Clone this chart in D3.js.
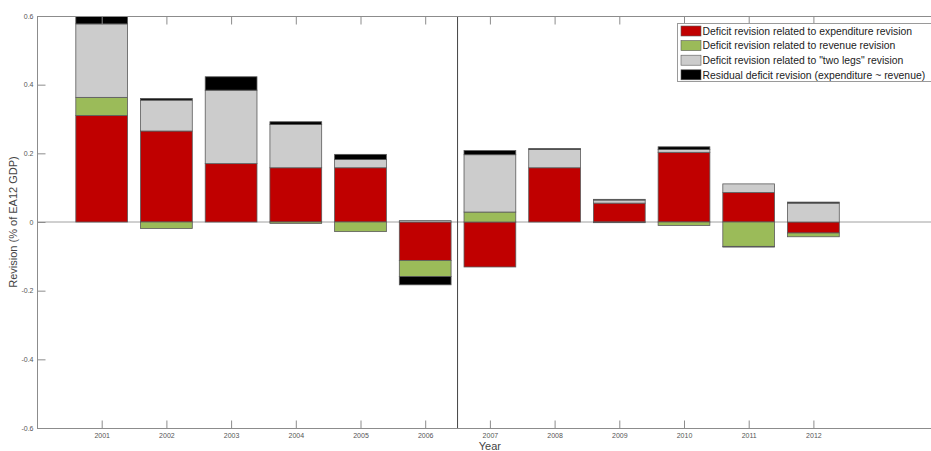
<!DOCTYPE html>
<html>
<head>
<meta charset="utf-8">
<script src="https://cdn.jsdelivr.net/npm/d3@7"></script>
<style>
  body { margin: 0; background: #fff; }
  svg { display: block; }
  text { font-family: "Liberation Sans", Arial, sans-serif; }
</style>
</head>
<body>
<svg id="chart" width="931" height="451"></svg>
<script>
const years = [2001, 2002, 2003, 2004, 2005, 2006, 2007, 2008, 2009, 2010, 2011, 2012];
const expenditure = [0.310, 0.265, 0.170, 0.158, 0.158, -0.112, -0.131, 0.158, 0.055, 0.203, 0.086, -0.032];
const revenue     = [0.053, -0.019, 0.000, -0.004, -0.028, -0.047, 0.029, 0.000, -0.002, -0.010, -0.071, -0.011];
const twoLegs     = [0.214, 0.090, 0.214, 0.126, 0.024, 0.004, 0.167, 0.053, 0.009, 0.008, 0.025, 0.055];
const residual    = [0.022, 0.005, 0.039, 0.008, 0.015, -0.024, 0.012, 0.003, 0.002, 0.008, -0.002, 0.003];
const seriesNames = [
  "Deficit revision related to expenditure revision",
  "Deficit revision related to revenue revision",
  "Deficit revision related to \"two legs\" revision",
  "Residual deficit revision (expenditure ~ revenue)"
];
const seriesColors = ["#c00000", "#9bbb59", "#cccccc", "#000000"];
const yTicks = [-0.6, -0.4, -0.2, 0, 0.2, 0.4, 0.6];
const yTickLabels = ["-0.6", "-0.4", "-0.2", "0", "0.2", "0.4", "0.6"];
const xLabel = "Year";
const yLabel = "Revision (% of EA12 GDP)";
const splitYear = 2006.5;

const keys = ["exp", "rev", "two", "res"];
const table = years.map((y, i) => ({year: y, exp: expenditure[i], rev: revenue[i], two: twoLegs[i], res: residual[i]}));
const stacked = d3.stack().keys(keys).offset(d3.stackOffsetDiverging)(table);

const svg = d3.select("#chart");
const L = 37, T = 16, B = 428, R = 931;
const x = d3.scaleLinear().domain([2000, 2014]).range([L, L + 64.7 * 14]);
const y = d3.scaleLinear().domain([-0.6, 0.6]).range([B, T]);
const barW = (x(2001) - x(2000)) * 0.8;

svg.append("defs").append("clipPath").attr("id", "clip")
  .append("rect").attr("x", L).attr("y", T).attr("width", R - L).attr("height", B - T);

const axisColor = "#8c8c8c";
const plot = svg.append("g").attr("clip-path", "url(#clip)");

// zero line
plot.append("line").attr("x1", L).attr("x2", R).attr("y1", y(0)).attr("y2", y(0))
  .attr("stroke", "#a0a0a0").attr("stroke-width", 1);

stacked.forEach((layer, si) => {
  plot.append("g").selectAll("rect")
    .data(layer.filter(d => Math.abs(d[1] - d[0]) > 1e-9))
    .join("rect")
    .attr("x", d => x(d.data.year) - barW / 2)
    .attr("width", barW)
    .attr("y", d => y(Math.max(d[0], d[1])))
    .attr("height", d => Math.abs(y(d[0]) - y(d[1])))
    .attr("fill", seriesColors[si])
    .attr("stroke", "#5a5a5a")
    .attr("stroke-width", 0.8);
});

// split line
plot.append("line").attr("x1", x(splitYear)).attr("x2", x(splitYear)).attr("y1", T).attr("y2", B)
  .attr("stroke", "#444").attr("stroke-width", 1);

// axes frame
const frame = svg.append("g").attr("stroke", axisColor).attr("stroke-width", 1).attr("fill", "none");
frame.append("line").attr("x1", L + 0.5).attr("x2", L + 0.5).attr("y1", T).attr("y2", B);
frame.append("line").attr("x1", L).attr("x2", R).attr("y1", T + 0.5).attr("y2", T + 0.5);
frame.append("line").attr("x1", L).attr("x2", R).attr("y1", B + 0.5).attr("y2", B + 0.5);

// y axis
const yAxis = d3.axisLeft(y).tickValues(yTicks).tickSize(-8).tickPadding(4)
  .tickFormat((d, i) => yTickLabels[i]);
const gy = svg.append("g").attr("transform", `translate(${L + 0.5},0)`).call(yAxis);
gy.select(".domain").remove();
gy.selectAll("line").attr("stroke", axisColor);
gy.selectAll("text").attr("fill", "#555").attr("font-size", 7);

// x axis bottom
const xAxis = d3.axisBottom(x).tickValues(years).tickSize(-8).tickPadding(5).tickFormat(d3.format("d"));
const gx = svg.append("g").attr("transform", `translate(0,${B + 0.5})`).call(xAxis);
gx.select(".domain").remove();
gx.selectAll("line").attr("stroke", axisColor);
gx.selectAll("text").attr("fill", "#555").attr("font-size", 7);

// top ticks
const xTop = d3.axisTop(x).tickValues(years).tickSize(-8).tickFormat("");
const gt = svg.append("g").attr("transform", `translate(0,${T + 0.5})`).call(xTop);
gt.select(".domain").remove();
gt.selectAll("line").attr("stroke", axisColor);

// axis labels
svg.append("text").attr("x", (x(2000) + x(2014)) / 2).attr("y", 450).attr("text-anchor", "middle")
  .attr("font-size", 11).attr("fill", "#444").text(xLabel);
svg.append("text").attr("transform", `translate(17,${y(0)}) rotate(-90)`).attr("text-anchor", "middle")
  .attr("font-size", 11).attr("fill", "#444").text(yLabel);

// legend
const lg = svg.append("g").attr("transform", "translate(677,23)");
lg.append("rect").attr("x", 0.5).attr("y", 0.5).attr("width", 270).attr("height", 58)
  .attr("fill", "#fff").attr("stroke", "#9a9a9a").attr("stroke-width", 1);
seriesNames.forEach((name, i) => {
  const cy = 8 + i * 14.6;
  lg.append("rect").attr("x", 4).attr("y", cy - 5).attr("width", 20).attr("height", 10)
    .attr("fill", seriesColors[i]).attr("stroke", "#5a5a5a").attr("stroke-width", 0.6);
  lg.append("text").attr("x", 25.5).attr("y", cy + 3.8).attr("font-size", 10.4).attr("fill", "#222").text(name);
});
</script>
</body>
</html>
